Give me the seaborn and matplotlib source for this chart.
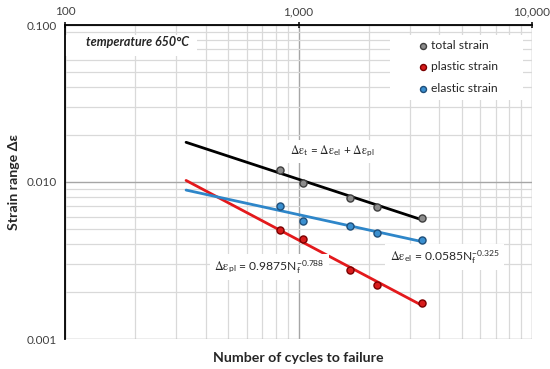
import numpy as np
import seaborn as sns
import matplotlib
matplotlib.use("Agg")
import matplotlib.pyplot as plt
from matplotlib.patches import Rectangle
from matplotlib.ticker import FixedLocator, LogLocator, NullFormatter

# cycles to failure and strain ranges
cycles = [835, 1047, 1658, 2179, 3388]
total_strain = [0.01187, 0.00990, 0.00794, 0.00696, 0.00592]
plastic_strain = [0.00492, 0.00432, 0.00275, 0.00222, 0.00170]
elastic_strain = [0.00703, 0.00564, 0.00522, 0.00475, 0.00427]

# fitted power laws (coefficient, exponent) from the chart labels
el_coef, el_exp = 0.0585, -0.325
pl_coef, pl_exp = 0.9875, -0.788
fit_range = [330, 3390]

x_ticks = [100, 1000, 10000]
x_labels = ["100", "1,000", "10,000"]
y_ticks = [0.001, 0.01, 0.1]
y_labels = ["0.001", "0.010", "0.100"]

sns.set_style("white")
plt.rcParams["font.family"] = ["Lato", "DejaVu Sans"]
plt.rcParams["mathtext.fontset"] = "stix"

fig = plt.figure(figsize=(5.5, 3.69), dpi=100)
ax = fig.add_axes([65 / 550, 1 - 339 / 369, (532 - 65) / 550, (339 - 25) / 369])
ax.set_xscale("log")
ax.set_yscale("log")
ax.set_xlim(100, 10000)
ax.set_ylim(0.001, 0.1)

# grid
ax.xaxis.set_minor_locator(LogLocator(base=10, subs=np.arange(2, 10)))
ax.yaxis.set_minor_locator(LogLocator(base=10, subs=np.arange(2, 10)))
ax.xaxis.set_minor_formatter(NullFormatter())
ax.yaxis.set_minor_formatter(NullFormatter())
ax.grid(which="major", color="#a6a6a6", linewidth=1.0)
ax.grid(which="minor", color="#d9d9d9", linewidth=0.9)
ax.set_axisbelow(True)

# white panels behind the title text and the legend
ax.add_patch(Rectangle((0.0, 0.901), 0.283, 0.067, transform=ax.transAxes,
                       facecolor="white", edgecolor="none", zorder=1))
ax.add_patch(Rectangle((0.696, 0.761), 0.285, 0.207, transform=ax.transAxes,
                       facecolor="white", edgecolor="none", zorder=1))

# fit lines
n_fit = np.logspace(np.log10(fit_range[0]), np.log10(fit_range[1]), 50)
el_fit = el_coef * n_fit ** el_exp
pl_fit = pl_coef * n_fit ** pl_exp
slope, icpt = np.polyfit(np.log10(cycles), np.log10(total_strain), 1)
tot_fit = 10 ** (icpt + slope * np.log10(n_fit))

sns.lineplot(x=n_fit, y=tot_fit, color="black", linewidth=2, ax=ax)
sns.lineplot(x=n_fit, y=pl_fit, color="#e3191c", linewidth=2, ax=ax)
sns.lineplot(x=n_fit, y=el_fit, color="#2e86c9", linewidth=2, ax=ax)

sns.scatterplot(x=cycles, y=total_strain, color="#8c8c8c", edgecolor="#3f3f3f",
                linewidth=1.0, s=26, zorder=5, label="total strain", ax=ax)
sns.scatterplot(x=cycles, y=plastic_strain, color="#d81c1c", edgecolor="#7a0000",
                linewidth=1.0, s=26, zorder=5, label="plastic strain", ax=ax)
sns.scatterplot(x=cycles, y=elastic_strain, color="#3a8fd0", edgecolor="#1f4e79",
                linewidth=1.0, s=26, zorder=5, label="elastic strain", ax=ax)

leg = ax.legend(loc="upper left", bbox_to_anchor=(0.747, 0.971), frameon=False,
                fontsize=8.7, handlelength=0.5, handletextpad=0.45,
                labelspacing=0.85, borderpad=0.0, markerscale=0.85)
for t in leg.get_texts():
    t.set_color("#262626")

# spines and ticks
for side in ["right", "bottom"]:
    ax.spines[side].set_visible(False)
for side in ["left", "top"]:
    ax.spines[side].set_visible(True)
    ax.spines[side].set_color("black")
    ax.spines[side].set_linewidth(1.3)
ax.xaxis.set_ticks_position("top")
ax.xaxis.set_label_position("bottom")
ax.xaxis.set_major_locator(FixedLocator(x_ticks))
ax.set_xticklabels(x_labels)
ax.yaxis.set_major_locator(FixedLocator(y_ticks))
ax.set_yticklabels(y_labels)
ax.tick_params(which="major", direction="inout", length=5, width=1.1,
               labelsize=8.5, labelcolor="#404040", color="black", pad=3)
ax.tick_params(which="minor", length=0)

ax.set_xlabel("Number of cycles to failure", fontsize=10.2, fontweight="bold", labelpad=9)
ax.set_ylabel("Strain range Δε", fontsize=10.2, fontweight="bold", labelpad=5)

# annotations
box = dict(boxstyle="square,pad=0.35", facecolor="white", edgecolor="none")
ax.text(0.045, 0.947, "temperature 650°C", transform=ax.transAxes,
        fontsize=9, fontweight="bold", fontstyle="italic", va="center")
ax.text(0.572, 0.596,
        r"$\mathrm{\Delta\varepsilon}_{\mathregular{t}}$ = $\mathrm{\Delta\varepsilon}_{\mathregular{el}}$"
        r" + $\mathrm{\Delta\varepsilon}_{\mathregular{pl}}$",
        transform=ax.transAxes, fontsize=8.4, ha="center", va="center", bbox=box)
ax.text(0.32, 0.23,
        r"$\mathrm{\Delta\varepsilon}_{\mathregular{pl}}$ = 0.9875N$_{\mathregular{f}}^{\mathregular{-0.788}}$",
        transform=ax.transAxes, fontsize=8.7, ha="left", va="center", bbox=box)
ax.text(0.695, 0.26,
        r"$\mathrm{\Delta\varepsilon}_{\mathregular{el}}$ = 0.0585N$_{\mathregular{f}}^{\mathregular{-0.325}}$",
        transform=ax.transAxes, fontsize=8.7, ha="left", va="center", bbox=box)

fig.savefig("out.png", dpi=100)
